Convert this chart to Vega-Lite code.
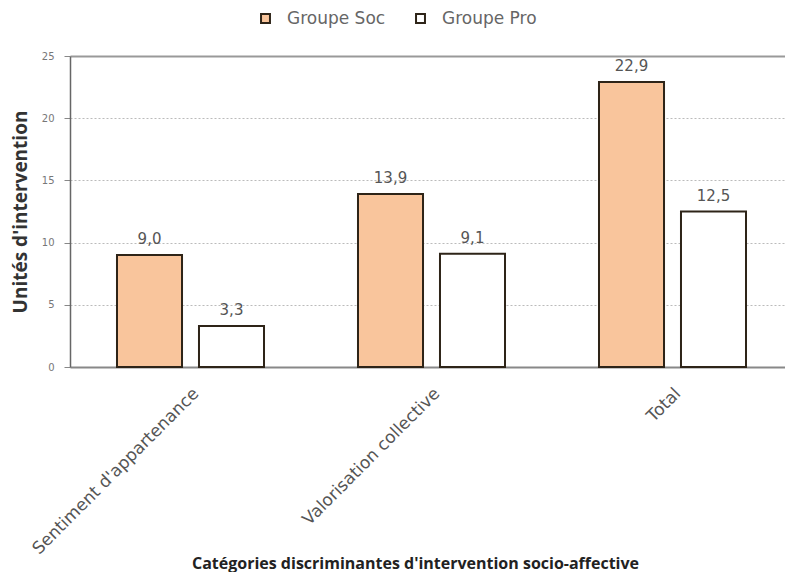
{
  "$schema": "https://vega.github.io/schema/vega-lite/v6.json",
  "autosize": "none",
  "width": 715,
  "height": 311,
  "padding": {"left": 70, "top": 56, "right": 0, "bottom": 205},
  "background": "white",
  "config": {
    "locale": {"number": {"decimal": ",", "thousands": " ", "grouping": [3], "currency": ["", " €"]}},
    "view": {"stroke": null}
  },
  "data": {
    "values": [
      {"categorie": "Sentiment d'appartenance", "groupe": "Groupe Soc", "valeur": 9.0},
      {"categorie": "Sentiment d'appartenance", "groupe": "Groupe Pro", "valeur": 3.3},
      {"categorie": "Valorisation collective", "groupe": "Groupe Soc", "valeur": 13.9},
      {"categorie": "Valorisation collective", "groupe": "Groupe Pro", "valeur": 9.1},
      {"categorie": "Total", "groupe": "Groupe Soc", "valeur": 22.9},
      {"categorie": "Total", "groupe": "Groupe Pro", "valeur": 12.5}
    ]
  },
  "encoding": {
    "x": {
      "field": "categorie",
      "type": "nominal",
      "sort": null,
      "scale": {"range": [0, 723], "paddingInner": 0.39, "paddingOuter": 0.195},
      "axis": {
        "title": "Catégories discriminantes d'intervention socio-affective",
        "titleFont": "Open Sans",
        "titleFontSize": 16,
        "titleFontWeight": "bold",
        "titleColor": "#222",
        "titleY": 196,
        "titleX": 345,
        "titleBaseline": "middle",
        "labelAngle": -45,
        "labelFont": "DejaVu Sans",
        "labelFontSize": 17,
        "labelColor": "#555",
        "labelPadding": 18,
        "labelLimit": 400,
        "ticks": false,
        "domainColor": "#888",
        "domainWidth": 2
      }
    },
    "xOffset": {
      "field": "groupe",
      "type": "nominal",
      "sort": ["Groupe Soc", "Groupe Pro"],
      "scale": {"paddingInner": 0.207, "paddingOuter": 0}
    },
    "y": {
      "field": "valeur",
      "type": "quantitative",
      "scale": {"domain": [0, 25], "nice": false},
      "axis": {
        "title": "Unités d'intervention",
        "titleFont": "Open Sans",
        "titleFontSize": 19,
        "titleFontWeight": "bold",
        "titleColor": "#333",
        "titlePadding": 11,
        "values": [0, 5, 10, 15, 20, 25],
        "format": "d",
        "labelFont": "DejaVu Sans",
        "labelFontSize": 10,
        "labelColor": "#777",
        "labelPadding": 10,
        "tickColor": "#888",
        "tickSize": 6,
        "domainColor": "#666",
        "domainWidth": 1.5,
        "grid": true,
        "gridColor": {"condition": {"test": "datum.value === 25", "value": "#999"}, "value": "#bbb"},
        "gridDash": {"condition": {"test": "datum.value === 25", "value": []}, "value": [2, 2]},
        "gridWidth": {"condition": {"test": "datum.value === 25", "value": 2}, "value": 1}
      }
    }
  },
  "layer": [
    {
      "mark": {"type": "bar", "stroke": "#2e2418", "strokeWidth": 2},
      "encoding": {
        "fill": {
          "field": "groupe",
          "type": "nominal",
          "sort": ["Groupe Soc", "Groupe Pro"],
          "scale": {"domain": ["Groupe Soc", "Groupe Pro"], "range": ["#f9c59c", "#ffffff"]},
          "legend": {
            "title": null,
            "orient": "none",
            "direction": "horizontal",
            "legendX": 187,
            "legendY": -46,
            "symbolType": "square",
            "symbolSize": 80,
            "symbolStrokeColor": "#2e2418",
            "symbolStrokeWidth": 2,
            "labelFont": "DejaVu Sans",
            "labelFontSize": 17,
            "labelColor": "#666",
            "labelOffset": 13,
            "columnPadding": 26
          }
        }
      }
    },
    {
      "mark": {"type": "text", "baseline": "alphabetic", "dy": -11, "font": "DejaVu Sans", "fontSize": 15, "fill": "#555"},
      "encoding": {
        "text": {"field": "valeur", "type": "quantitative", "format": ".1f"}
      }
    }
  ]
}
